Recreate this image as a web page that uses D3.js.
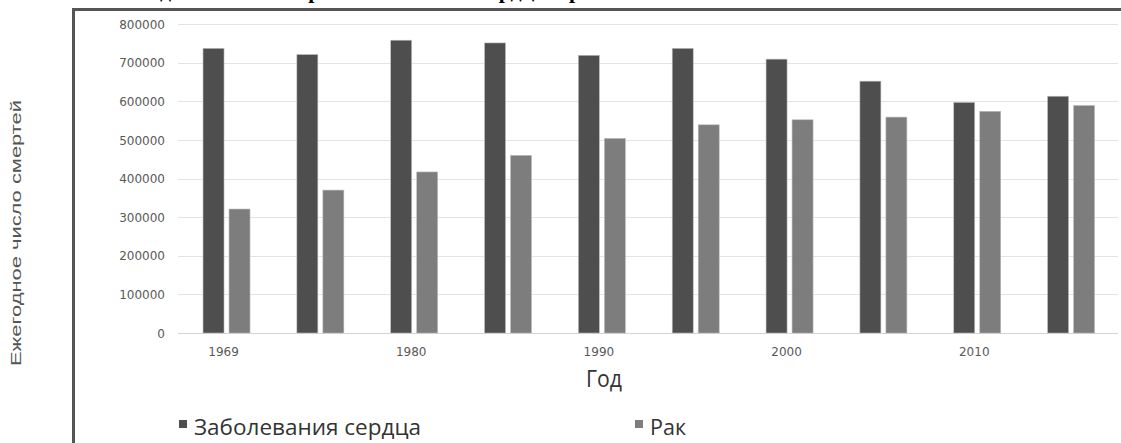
<!DOCTYPE html>
<html>
<head>
<meta charset="utf-8">
<script src="https://cdn.jsdelivr.net/npm/d3@7"></script>
<style>
  html, body { margin: 0; padding: 0; background: #ffffff; }
  svg { display: block; }
</style>
</head>
<body>
<svg id="chart" width="1121" height="443"></svg>
<script>
const years = ["1969", "1975", "1980", "1985", "1990", "1995", "2000", "2005", "2010", "2015"];
const xTickLabels = ["1969", "", "1980", "", "1990", "", "2000", "", "2010", ""];
const heartDisease = [737000, 721000, 758000, 751000, 719000, 737000, 709000, 652000, 597000, 613000];
const cancer = [321000, 370000, 417000, 460000, 504000, 539000, 552000, 559000, 574000, 589000];
const seriesNames = ["Заболевания сердца", "Рак"];
const yTicks = [0, 100000, 200000, 300000, 400000, 500000, 600000, 700000, 800000];

const svg = d3.select("#chart");
const W = 1121, H = 443;
const plot = { left: 178, right: 1118, top: 24, bottom: 333 };

// cut-off title at the very top
svg.append("text")
  .attr("x", 100).attr("y", -2)
  .attr("font-family", "Liberation Serif, Times New Roman, serif")
  .attr("font-weight", "bold")
  .attr("font-size", 22)
  .attr("fill", "#000")
  .text("Ежегодное число смертей от болезней сердца и рака");

// frame
svg.append("path")
  .attr("d", `M73.5,${H} L73.5,9.5 L${W},9.5`)
  .attr("fill", "none").attr("stroke", "#555555").attr("stroke-width", 3);

const x0 = d3.scaleBand().domain(years).range([179.6, 1118]).paddingInner(0).paddingOuter(0);
const y = d3.scaleLinear().domain([0, 800000]).range([plot.bottom, plot.top]);

// gridlines
svg.append("g").selectAll("line").data(yTicks).join("line")
  .attr("x1", plot.left).attr("x2", plot.right)
  .attr("y1", d => Math.round(y(d)) + 0.5).attr("y2", d => Math.round(y(d)) + 0.5)
  .attr("stroke", d => d === 0 ? "#d4d4d4" : "#e3e3e3").attr("stroke-width", 1);

// y axis labels
const yAxis = d3.axisLeft(y).tickValues(yTicks).tickFormat(d3.format("d")).tickSize(0).tickPadding(0);
const gy = svg.append("g").attr("transform", `translate(165,0)`).call(yAxis);
gy.select(".domain").remove();
gy.selectAll("text")
  .attr("font-family", "DejaVu Sans, sans-serif")
  .attr("font-size", 12).attr("fill", "#595959").attr("dy", "0.35em");

// x axis labels
const xAxis = d3.axisBottom(x0).tickFormat((d, i) => xTickLabels[i]).tickSize(0).tickPadding(0);
const gx = svg.append("g").attr("transform", `translate(-3,347)`).call(xAxis);
gx.select(".domain").remove();
gx.selectAll("text")
  .attr("font-family", "DejaVu Sans, sans-serif")
  .attr("font-size", 12).attr("fill", "#595959").attr("dy", "0.71em");

// bars
const barW = 21, gap = 5;
const colors = ["#4e4e4e", "#7d7d7d"];
const series = [heartDisease, cancer];
const x1 = d3.scaleBand().domain([0, 1]).range([0, barW * 2 + gap]).paddingInner(gap / (barW + gap)).paddingOuter(0);
series.forEach((vals, s) => {
  svg.append("g").selectAll("rect").data(vals).join("rect")
    .attr("x", (d, i) => x0(years[i]) + x0.bandwidth() / 2 - (barW * 2 + gap) / 2 + x1(s))
    .attr("width", x1.bandwidth())
    .attr("y", d => y(d))
    .attr("height", d => y(0) - y(d))
    .attr("fill", colors[s])
    .attr("stroke", "#bdbdbd").attr("stroke-width", 0.6);
});

// axis title x
svg.append("text")
  .attr("x", 604).attr("y", 387)
  .attr("text-anchor", "middle")
  .attr("font-family", "Open Sans, Noto Sans, sans-serif")
  .attr("font-size", 23).attr("fill", "#333")
  .attr("textLength", 36).attr("lengthAdjust", "spacingAndGlyphs")
  .text("Год");

// axis title y
svg.append("text")
  .attr("transform", "translate(21,233) rotate(-90)")
  .attr("text-anchor", "middle")
  .attr("font-family", "Liberation Sans, Arial, sans-serif")
  .attr("font-size", 15).attr("fill", "#555")
  .attr("textLength", 266).attr("lengthAdjust", "spacingAndGlyphs")
  .text("Ежегодное число смертей");

// legend
const legendX = [179, 635];
const legendLen = [227, 36];
seriesNames.forEach((name, i) => {
  svg.append("rect")
    .attr("x", legendX[i]).attr("y", 420).attr("width", 8).attr("height", 8)
    .attr("fill", colors[i]);
  svg.append("text")
    .attr("x", legendX[i] + 15).attr("y", 435)
    .attr("font-family", "Open Sans, Noto Sans, sans-serif")
    .attr("font-size", 22).attr("fill", "#333")
    .attr("textLength", legendLen[i]).attr("lengthAdjust", "spacingAndGlyphs")
    .text(name);
});
</script>
</body>
</html>
